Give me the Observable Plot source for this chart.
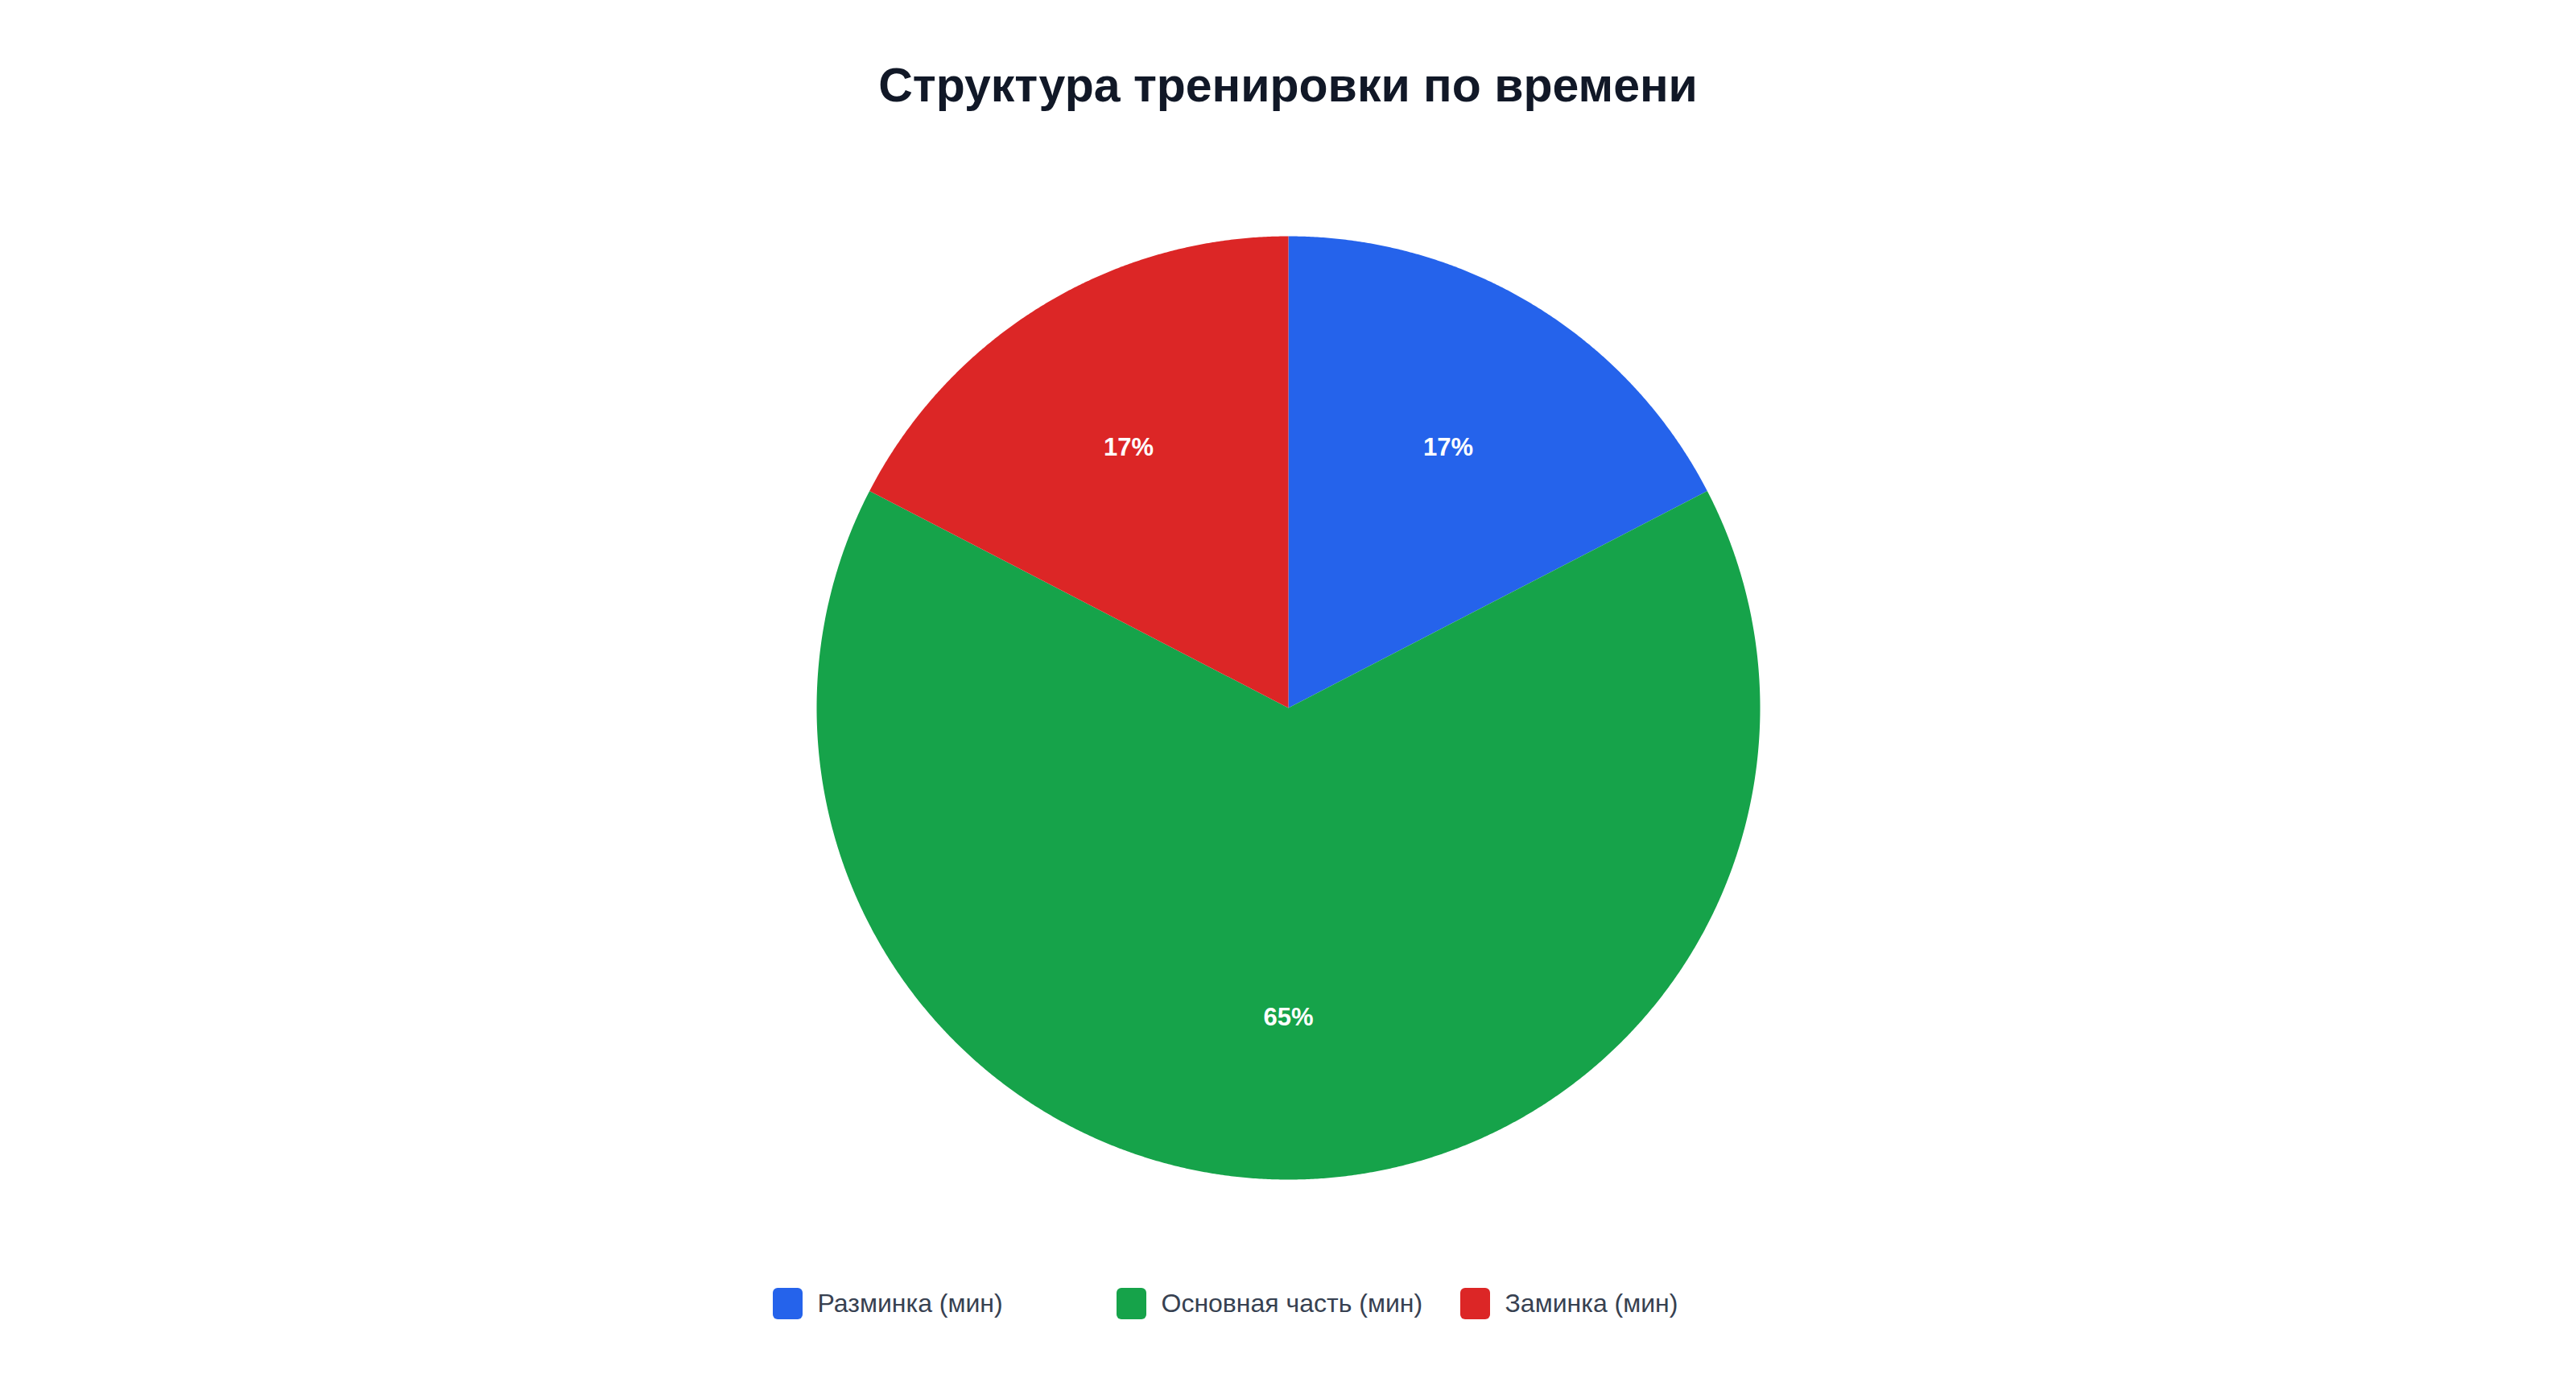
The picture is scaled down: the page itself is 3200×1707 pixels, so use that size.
<!DOCTYPE html>
<html>
<head>
<meta charset="utf-8">
<script src="https://cdn.jsdelivr.net/npm/d3@7"></script>
<script src="https://cdn.jsdelivr.net/npm/@observablehq/plot@0.6"></script>
<style>
  html, body { margin: 0; padding: 0; background: #ffffff; }
  body { width: 3200px; font-family: "Liberation Sans", Arial, Helvetica, sans-serif; }
  #title { height: 212px; line-height: 212px; text-align: center; font-size: 59px; font-weight: bold; color: #111827; }
  #chart svg { display: block; }
  #legend { display: flex; justify-content: center; margin-top: 54px; }
  .item { width: 427px; display: flex; align-items: center; font-size: 32px; color: #374151; }
  .sw { width: 37px; height: 39px; border-radius: 6px; margin-right: 19px; flex: none; }
</style>
</head>
<body>
<div id="title">Структура тренировки по времени</div>
<div id="chart"></div>
<div id="legend"></div>
<script>
const categories = ["Разминка (мин)", "Основная часть (мин)", "Заминка (мин)"];
const minutes = [12, 45, 12];
const colors = ["#2563eb", "#16a34a", "#dc2626"];

const W = 3200, H = 1334, R = 586;
const total = d3.sum(minutes);
const arcs = d3.pie().sort(null).value(d => d)(minutes);

const slicePoints = [];
const labels = [];
arcs.forEach((a, i) => {
  const name = categories[i];
  slicePoints.push({name, x: 0, y: 0});
  const n = Math.max(2, Math.ceil((a.endAngle - a.startAngle) / (Math.PI / 720)));
  for (let k = 0; k <= n; k++) {
    const t = a.startAngle + (a.endAngle - a.startAngle) * k / n;
    slicePoints.push({name, x: Math.sin(t), y: Math.cos(t)});
  }
  slicePoints.push({name, x: 0, y: 0});
  const mid = (a.startAngle + a.endAngle) / 2;
  labels.push({x: 0.652 * Math.sin(mid), y: 0.652 * Math.cos(mid), text: Math.round(minutes[i] / total * 100) + "%"});
});

const chart = Plot.plot({
  width: W, height: H,
  margin: 0,
  style: {background: "transparent"},
  x: {domain: [-1, 1], range: [W / 2 - R, W / 2 + R], axis: null},
  y: {domain: [-1, 1], range: [H / 2 + R, H / 2 - R], axis: null},
  color: {domain: categories, range: colors},
  marks: [
    Plot.line(slicePoints, {x: "x", y: "y", z: "name", fill: "name", stroke: "none", curve: "linear"}),
    Plot.text(labels, {x: "x", y: "y", text: "text", fill: "#ffffff", fontSize: 31, fontWeight: "bold", dy: 3,
      fontFamily: "'Liberation Sans', Arial, sans-serif"})
  ]
});
document.getElementById("chart").appendChild(chart);

const legend = document.getElementById("legend");
categories.forEach((c, i) => {
  const it = document.createElement("div");
  it.className = "item";
  const sw = document.createElement("span");
  sw.className = "sw";
  sw.style.background = colors[i];
  const tx = document.createElement("span");
  tx.textContent = c;
  it.appendChild(sw); it.appendChild(tx);
  legend.appendChild(it);
});
</script>
</body>
</html>
